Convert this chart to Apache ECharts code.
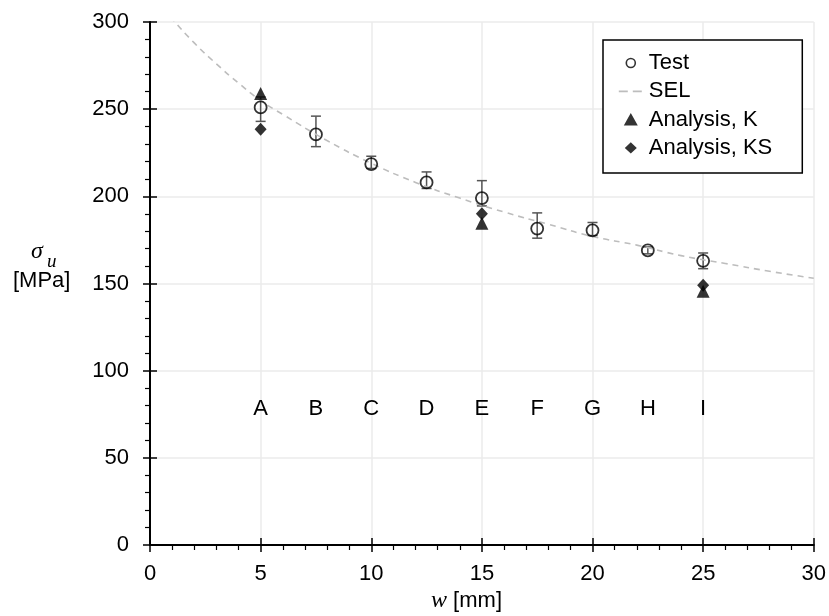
<!DOCTYPE html>
<html>
<head>
<meta charset="utf-8">
<script src="https://cdn.jsdelivr.net/npm/echarts@6/dist/echarts.min.js"></script>
<style>
html, body { margin: 0; padding: 0; background: #fff; }
#main { width: 829px; height: 616px; }
</style>
</head>
<body>
<div id="main"></div>
<script>
// specimen widths w [mm] and the letters printed above the axis
var specimenW = [5, 7.5, 10, 12.5, 15, 17.5, 20, 22.5, 25];
var specimenNames = ['A', 'B', 'C', 'D', 'E', 'F', 'G', 'H', 'I'];
var nameLevel = 78;

// test results: mean and scatter band
var testMean = [251, 235.5, 218.5, 208, 199, 181.5, 180.5, 169, 163];
var testLow  = [243, 228.5, 216, 204.5, 194.5, 176, 177.5, 167, 158.5];
var testHigh = [257, 246, 223, 214, 209, 190.5, 185, 171, 167.5];

// analyses
var analysisW  = [5, 15, 25];
var analysisK  = [259, 184.5, 145.5];
var analysisKS = [238.5, 190, 149];

// size effect law curve
var selW      = [0, 1, 2, 3, 4, 5, 6, 8, 10, 12, 14, 16, 18, 20, 22, 24, 26, 28, 30];
var selStress = [318, 302, 288, 276, 265, 255, 247, 232, 219, 208, 199, 191, 184, 177, 172, 166, 161.5, 157, 153];

var font = "'Liberation Sans', Arial, sans-serif";
var serif = "'Liberation Serif', 'DejaVu Serif', serif";

// legend icons: the two tiny corner segments fix the box so the marks keep their shape
var iconBox = 'M0,0L0,0.01Z M26,14L26,13.99Z ';
var iconCircle = 'path://' + iconBox + 'M17.5,7A4.5,4.5 0 1 1 8.5,7A4.5,4.5 0 1 1 17.5,7Z';
var iconTriangle = 'path://' + iconBox + 'M13,0.5L20,13L6,13Z';
var iconDiamond = 'path://' + iconBox + 'M13,1.3L19,7L13,12.7L7,7Z';
var iconDash = 'path://' + iconBox + 'M1,6.1h9v1.8h-9z M15,6.1h9v1.8h-9z';

function pairs(xs, ys) {
    return xs.map(function (x, i) { return [x, ys[i]]; });
}

function renderErrorBar(params, api) {
    var x = api.value(0);
    var lo = api.coord([x, api.value(1)]);
    var hi = api.coord([x, api.value(2)]);
    var cap = 5;
    var style = { stroke: '#555', lineWidth: 1.5, fill: null };
    return {
        type: 'group',
        children: [
            { type: 'line', shape: { x1: lo[0], y1: lo[1], x2: hi[0], y2: hi[1] }, style: style },
            { type: 'line', shape: { x1: lo[0] - cap, y1: lo[1], x2: lo[0] + cap, y2: lo[1] }, style: style },
            { type: 'line', shape: { x1: hi[0] - cap, y1: hi[1], x2: hi[0] + cap, y2: hi[1] }, style: style }
        ]
    };
}

function renderName(params, api) {
    var p = api.coord([api.value(0), api.value(1)]);
    return {
        type: 'text',
        x: p[0],
        y: p[1],
        style: {
            text: specimenNames[params.dataIndex],
            font: '22px ' + font,
            fill: '#000',
            align: 'center',
            verticalAlign: 'middle'
        }
    };
}

var myChart = echarts.init(document.getElementById('main'));

var option = {
    animation: false,
    backgroundColor: '#fff',
    grid: { left: 150, right: 14, top: 22, bottom: 71 },
    legend: {
        orient: 'vertical',
        left: 603,
        top: 40,
        padding: [12, 30, 14, 14],
        itemGap: 6.3,
        itemWidth: 26,
        itemHeight: 14,
        backgroundColor: '#fff',
        borderColor: '#000',
        borderWidth: 1.5,
        borderRadius: 0,
        selectedMode: false,
        textStyle: { fontSize: 22, color: '#000', fontFamily: font },
        data: [
            { name: 'Test', icon: iconCircle, itemStyle: { color: '#fff', borderColor: '#000', borderWidth: 1.6 } },
            { name: 'SEL', icon: iconDash, itemStyle: { color: '#bdbdbd', borderWidth: 0 } },
            { name: 'Analysis, K', icon: iconTriangle, itemStyle: { color: '#000', borderWidth: 0 } },
            { name: 'Analysis, KS', icon: iconDiamond, itemStyle: { color: '#000', borderWidth: 0 } }
        ]
    },
    xAxis: [
        {
            type: 'value', min: 0, max: 30, interval: 5, position: 'bottom',
            axisLine: { onZero: false, lineStyle: { color: '#000', width: 2 } },
            axisTick: { length: 7, lineStyle: { color: '#000', width: 1.5 } },
            minorTick: { show: true, splitNumber: 5, length: 5, lineStyle: { color: '#000', width: 1.2 } },
            axisLabel: { fontSize: 22, color: '#000', margin: 18, fontFamily: font },
            splitLine: { lineStyle: { color: '#ebebeb', width: 1.5 } }
        },
        {
            // inner half of the crossing major ticks
            type: 'value', min: 0, max: 30, interval: 5, position: 'bottom',
            axisLine: { show: false, onZero: false },
            axisTick: { inside: true, length: 7, lineStyle: { color: '#000', width: 1.5 } },
            axisLabel: { show: false },
            splitLine: { show: false }
        }
    ],
    yAxis: [
        {
            type: 'value', min: 0, max: 300, interval: 50, position: 'left',
            axisLine: { onZero: false, lineStyle: { color: '#000', width: 2 } },
            axisTick: { length: 7, lineStyle: { color: '#000', width: 1.5 } },
            minorTick: { show: true, splitNumber: 5, length: 5, lineStyle: { color: '#000', width: 1.2 } },
            axisLabel: { fontSize: 22, color: '#000', margin: 21, fontFamily: font },
            splitLine: { lineStyle: { color: '#ebebeb', width: 1.5 } }
        },
        {
            type: 'value', min: 0, max: 300, interval: 50, position: 'left',
            axisLine: { show: false, onZero: false },
            axisTick: { inside: true, length: 7, lineStyle: { color: '#000', width: 1.5 } },
            axisLabel: { show: false },
            splitLine: { show: false }
        }
    ],
    graphic: [
        { type: 'text', left: 31, top: 240, style: { text: 'σ', font: 'italic 24px ' + serif, fill: '#000' } },
        { type: 'text', left: 47, top: 252, style: { text: 'u', font: 'italic 19px ' + serif, fill: '#000' } },
        { type: 'text', left: 13, top: 270, style: { text: '[MPa]', font: '22px ' + font, fill: '#000' } },
        {
            type: 'text', left: 431, top: 589,
            style: {
                text: '{w|w} [mm]',
                font: '22px ' + font,
                fill: '#000',
                rich: { w: { fontFamily: serif, fontStyle: 'italic', fontSize: 24 } }
            }
        }
    ],
    series: [
        {
            name: 'SEL',
            type: 'line',
            data: pairs(selW, selStress),
            smooth: true,
            showSymbol: false,
            symbol: 'none',
            clip: true,
            color: '#bdbdbd',
            lineStyle: { color: '#bdbdbd', width: 1.6, type: [6, 5] },
            silent: true
        },
        {
            name: 'errors',
            type: 'custom',
            renderItem: renderErrorBar,
            encode: { x: 0, y: [1, 2] },
            data: specimenW.map(function (w, i) { return [w, testLow[i], testHigh[i]]; }),
            silent: true
        },
        {
            name: 'Test',
            type: 'scatter',
            data: pairs(specimenW, testMean),
            symbol: 'circle',
            symbolSize: 12,
            itemStyle: { color: 'rgba(0,0,0,0)', borderColor: '#000', borderWidth: 1.8 },
            z: 3
        },
        {
            name: 'Analysis, K',
            type: 'scatter',
            data: pairs(analysisW, analysisK),
            symbol: 'triangle',
            symbolSize: 13,
            itemStyle: { color: '#000' },
            z: 4
        },
        {
            name: 'Analysis, KS',
            type: 'scatter',
            data: pairs(analysisW, analysisKS),
            symbol: 'diamond',
            symbolSize: [12, 13],
            itemStyle: { color: '#000' },
            z: 4
        },
        {
            name: 'names',
            type: 'custom',
            renderItem: renderName,
            encode: { x: 0, y: 1 },
            data: specimenW.map(function (w) { return [w, nameLevel]; }),
            silent: true
        }
    ]
};

myChart.setOption(option);
</script>
</body>
</html>
